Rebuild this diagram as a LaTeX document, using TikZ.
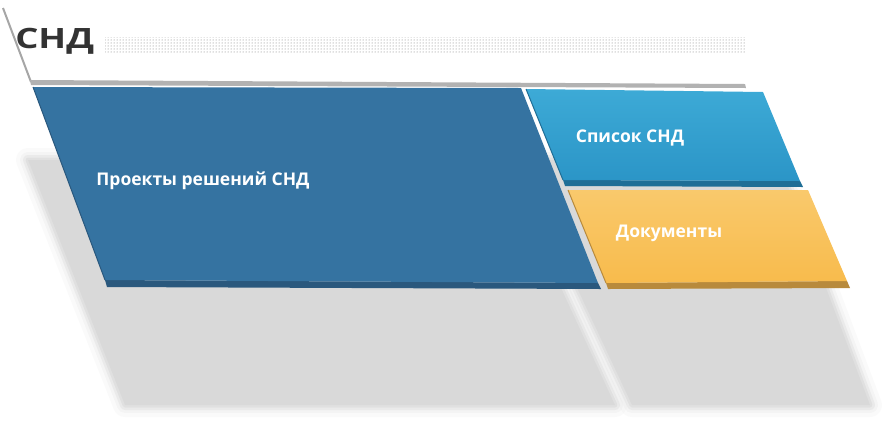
\documentclass[tikz,border=0pt]{standalone}
\usepackage{fontspec}
\setmainfont{Open Sans}
\usetikzlibrary{patterns}
\definecolor{projectblue}{HTML}{3573A1}
\definecolor{projectedge}{HTML}{2A587D}
\definecolor{listtop}{HTML}{3DAAD6}
\definecolor{listbottom}{HTML}{2B95C7}
\definecolor{listedge}{HTML}{1F6E96}
\definecolor{docstop}{HTML}{F9C96C}
\definecolor{docsbottom}{HTML}{F8BB4C}
\definecolor{docsedge}{HTML}{B88A3C}
\definecolor{titlegray}{HTML}{333333}
\begin{document}
\begin{tikzpicture}[
		x=1pt, y=-1pt, % pixel grid of the slide
		tiletext/.style={text=white, anchor=base, font=\bfseries\fontsize{17.5}{20}\selectfont},
		titletext/.style={text=titlegray, anchor=base west, inner sep=0, xscale=1.3, font=\bfseries\fontsize{28}{32}\selectfont},
		floorshadow/.style={black!15, line join=round}
		]
		\useasboundingbox (0,0) rectangle (882,424);
		% Floor shadow (soft edge)
		\foreach \w/\o in {24/0.12,16/0.2,10/0.35,5/0.6} {
			\draw[floorshadow, line width=\w, opacity=\o] (28,160) -- (502,160) -- (615,405) -- (125,405) -- cycle;
			\draw[floorshadow, line width=\w, opacity=\o] (517,160) -- (778,160) -- (870,405) -- (632,405) -- cycle;
		}
		\fill[floorshadow] (28,160) -- (502,160) -- (615,405) -- (125,405) -- cycle;
		\fill[floorshadow] (517,160) -- (778,160) -- (870,405) -- (632,405) -- cycle;
		
		% Title panel
		\draw[black!35, line width=2] (3,8) -- (31,82);
		\fill[black!30] (30,80) -- (745,84) -- (746,88) -- (31,85) -- cycle;
		\fill[pattern=dots, pattern color=black!55] (105,37) rectangle (745,52);
		\node[titletext] (title) at (15,48) {СНД};
		
		% Big tile
		\fill[projectedge] (105,280) -- (598,283) -- (601,289) -- (107,287) -- cycle;
		\fill[projectblue] (33,87) -- (521,88) -- (598,283) -- (105,280) -- cycle;
		\draw[projectedge, line width=1] (33,87) -- (105,280);
		\node[tiletext] (projects) at (203,185) {Проекты решений СНД};
		
		% List tile
		\fill[listedge] (563,180) -- (800,181) -- (803,187) -- (565,186) -- cycle;
		\shade[top color=listtop, bottom color=listbottom] (526,89) -- (763,92) -- (800,181) -- (563,180) -- cycle;
		\draw[listedge, line width=1] (526,89) -- (563,180);
		\node[tiletext] (list) at (630,142) {Список СНД};
		
		% Documents tile
		\fill[docsedge] (606,283) -- (847,281) -- (850,288) -- (608,289) -- cycle;
		\shade[top color=docstop, bottom color=docsbottom] (568,190) -- (808,190) -- (847,281) -- (606,283) -- cycle;
		\draw[docsedge, line width=1] (568,190) -- (606,283);
		\node[tiletext] (docs) at (669,237) {Документы};
	\end{tikzpicture}
\end{document}
